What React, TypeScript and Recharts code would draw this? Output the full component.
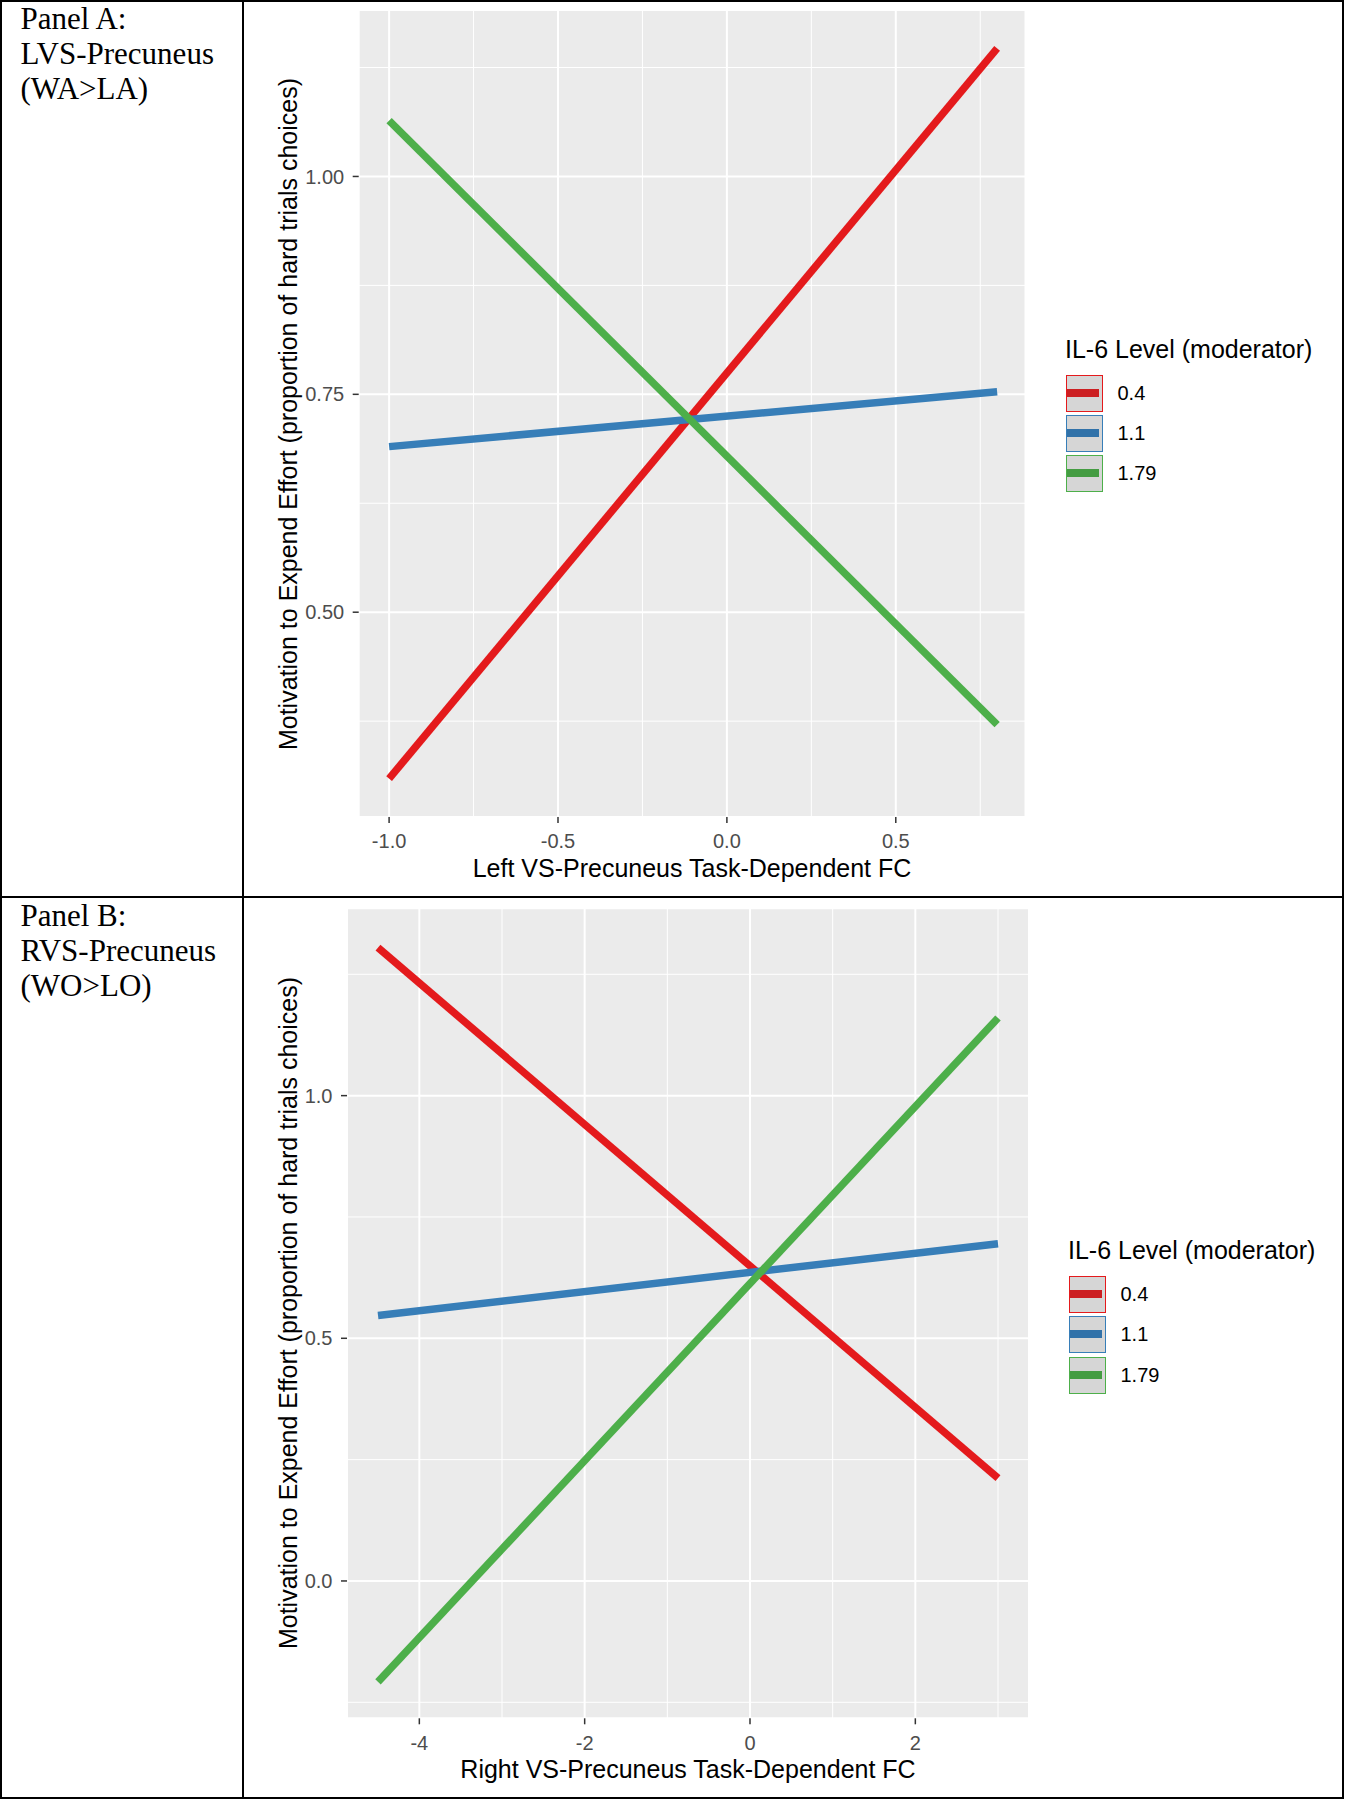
import {
  CartesianGrid,
  Line,
  LineChart,
  ReferenceLine,
  XAxis,
  YAxis,
} from "recharts";

const levels = ["0.4", "1.1", "1.79"];
const levelColors = ["#E41A1C", "#377EB8", "#4DAF4A"];
const keyLineColors = ["#CC1F22", "#3172A9", "#449C42"];

// Panel A: Left VS-Precuneus (WA>LA)
const fcA = [-1.0, 0.8];
const lowA = [0.309, 1.147];
const midA = [0.69, 0.753];
const highA = [1.064, 0.371];
const xTicksA = [-1.0, -0.5, 0.0, 0.5];
const yTicksA = [0.5, 0.75, 1.0];
const xMinorA = [-0.75, -0.25, 0.25, 0.75];
const yMinorA = [0.375, 0.625, 0.875, 1.125];

// Panel B: Right VS-Precuneus (WO>LO)
const fcB = [-4.5, 3.0];
const lowB = [1.305, 0.212];
const midB = [0.547, 0.695];
const highB = [-0.208, 1.16];
const xTicksB = [-4, -2, 0, 2];
const yTicksB = [0.0, 0.5, 1.0];
const xMinorB = [-3, -1, 1, 3];
const yMinorB = [-0.25, 0.25, 0.75, 1.25];

const yTitle =
  "Motivation to Expend Effort (proportion of hard trials choices)";
const legendTitle = "IL-6 Level (moderator)";

const sans = "'Liberation Sans', Arial, sans-serif";
const serif = "'Liberation Serif', 'Times New Roman', serif";

const tickStyle = { fontSize: 20, fill: "#4D4D4D", fontFamily: sans };

type PanelProps = {
  left: number;
  top: number;
  margin: { top: number; right: number; bottom: number; left: number };
  yAxisWidth: number;
  fc: number[];
  low: number[];
  mid: number[];
  high: number[];
  xDomain: [number, number];
  yDomain: [number, number];
  xTicks: number[];
  yTicks: number[];
  xMinor: number[];
  yMinor: number[];
  xDigits: number;
  yDigits: number;
};

function InteractionChart(p: PanelProps) {
  const data = p.fc.map((x, i) => ({
    x,
    low: p.low[i],
    mid: p.mid[i],
    high: p.high[i],
  }));
  const keys = ["low", "mid", "high"];

  return (
    <div style={{ position: "absolute", left: p.left, top: p.top }}>
      <LineChart width={790} height={880} data={data} margin={p.margin}>
        <CartesianGrid fill="#EBEBEB" stroke="#FFFFFF" strokeWidth={2} />
        {p.xMinor.map((v) => (
          <ReferenceLine key={"vx" + v} x={v} stroke="#FFFFFF" strokeWidth={1} />
        ))}
        {p.yMinor.map((v) => (
          <ReferenceLine key={"hy" + v} y={v} stroke="#FFFFFF" strokeWidth={1} />
        ))}
        <XAxis
          type="number"
          dataKey="x"
          domain={p.xDomain}
          ticks={p.xTicks}
          allowDataOverflow
          interval={0}
          height={50}
          axisLine={false}
          tickLine={{ stroke: "#333333", strokeWidth: 1.5 }}
          tickSize={6}
          tickMargin={11}
          tick={tickStyle}
          tickFormatter={(v: number) => v.toFixed(p.xDigits)}
        />
        <YAxis
          type="number"
          domain={p.yDomain}
          ticks={p.yTicks}
          allowDataOverflow
          interval={0}
          width={p.yAxisWidth}
          axisLine={false}
          tickLine={{ stroke: "#333333", strokeWidth: 1.5 }}
          tickSize={6}
          tickMargin={8.5}
          tick={tickStyle}
          tickFormatter={(v: number) => v.toFixed(p.yDigits)}
        />
        {keys.map((k, i) => (
          <Line
            key={k}
            type="linear"
            dataKey={k}
            stroke={levelColors[i]}
            strokeWidth={7.5}
            dot={false}
            activeDot={false}
            isAnimationActive={false}
          />
        ))}
      </LineChart>
    </div>
  );
}

function YTitle({ cx, cy }: { cx: number; cy: number }) {
  return (
    <div style={{ position: "absolute", left: cx, top: cy, width: 0, height: 0 }}>
      <div
        style={{
          position: "absolute",
          left: 0,
          top: 0,
          transform: "translate(-50%, -50%) rotate(-90deg)",
          whiteSpace: "nowrap",
          fontFamily: sans,
          fontSize: 25,
          lineHeight: "25px",
          color: "#000",
        }}
      >
        {yTitle}
      </div>
    </div>
  );
}

function XTitle({ cx, baseline, text }: { cx: number; baseline: number; text: string }) {
  return (
    <div
      style={{
        position: "absolute",
        left: cx - 400,
        width: 800,
        top: baseline - 21.2,
        textAlign: "center",
        fontFamily: sans,
        fontSize: 25,
        lineHeight: "25px",
        color: "#000",
        whiteSpace: "nowrap",
      }}
    >
      {text}
    </div>
  );
}

function LegendBlock({ left, baseline }: { left: number; baseline: number }) {
  return (
    <div style={{ position: "absolute", left: 0, top: 0 }}>
      <div
        style={{
          position: "absolute",
          left,
          top: baseline - 21.2,
          fontFamily: sans,
          fontSize: 25,
          lineHeight: "25px",
          whiteSpace: "nowrap",
          color: "#000",
        }}
      >
        {legendTitle}
      </div>
      {levels.map((lv, i) => {
        const top = baseline + 17 + i * 40.3;
        return (
          <div key={lv}>
            <div
              style={{
                position: "absolute",
                left: left + 1,
                top,
                width: 37,
                height: 37,
                boxSizing: "border-box",
                border: `1.5px solid ${levelColors[i]}`,
                background: "#D6D6D6",
              }}
            >
              <div
                style={{
                  position: "absolute",
                  left: 0,
                  right: 3,
                  top: 13,
                  height: 8,
                  background: keyLineColors[i],
                }}
              />
            </div>
            <div
              style={{
                position: "absolute",
                left: left + 52.5,
                top,
                height: 37,
                lineHeight: "37px",
                fontFamily: sans,
                fontSize: 20,
                color: "#000",
                whiteSpace: "nowrap",
              }}
            >
              {lv}
            </div>
          </div>
        );
      })}
    </div>
  );
}

function PanelLabel({ top, lines }: { top: number; lines: string[] }) {
  return (
    <div
      style={{
        position: "absolute",
        left: 20.5,
        top,
        fontFamily: serif,
        fontSize: 31,
        lineHeight: "35px",
        color: "#000",
        whiteSpace: "nowrap",
      }}
    >
      {lines.map((l) => (
        <div key={l}>{l}</div>
      ))}
    </div>
  );
}

export default function App() {
  return (
    <div
      style={{
        position: "absolute",
        left: 0,
        top: 0,
        width: 1347,
        height: 1800,
        background: "#FFFFFF",
        overflow: "hidden",
      }}
    >
      {/* table frame */}
      <div
        style={{
          position: "absolute",
          left: 0,
          top: 0,
          width: 1344,
          height: 1799,
          boxSizing: "border-box",
          border: "2px solid #000",
        }}
      />
      <div style={{ position: "absolute", left: 242, top: 0, width: 2, height: 1799, background: "#000" }} />
      <div style={{ position: "absolute", left: 0, top: 896, width: 1344, height: 2, background: "#000" }} />

      <PanelLabel top={1.3} lines={["Panel A:", "LVS-Precuneus", "(WA>LA)"]} />
      <PanelLabel top={897.7} lines={["Panel B:", "RVS-Precuneus", "(WO>LO)"]} />

      <InteractionChart
        left={250}
        top={0}
        margin={{ top: 10, right: 14.5, bottom: 13, left: 0 }}
        yAxisWidth={108.7}
        fc={fcA}
        low={lowA}
        mid={midA}
        high={highA}
        xDomain={[-1.09, 0.884]}
        yDomain={[0.265, 1.191]}
        xTicks={xTicksA}
        yTicks={yTicksA}
        xMinor={xMinorA}
        yMinor={yMinorA}
        xDigits={1}
        yDigits={2}
      />
      <YTitle cx={288} cy={413.5} />
      <XTitle cx={692} baseline={877} text="Left VS-Precuneus Task-Dependent FC" />
      <LegendBlock left={1065} baseline={357.7} />

      <InteractionChart
        left={250}
        top={900}
        margin={{ top: 8.3, right: 11, bottom: 11.7, left: 0 }}
        yAxisWidth={97}
        fc={fcB}
        low={lowB}
        mid={midB}
        high={highB}
        xDomain={[-4.875, 3.375]}
        yDomain={[-0.283, 1.386]}
        xTicks={xTicksB}
        yTicks={yTicksB}
        xMinor={xMinorB}
        yMinor={yMinorB}
        xDigits={0}
        yDigits={1}
      />
      <YTitle cx={288} cy={1313.3} />
      <XTitle cx={688} baseline={1778} text="Right VS-Precuneus Task-Dependent FC" />
      <LegendBlock left={1068} baseline={1259} />
    </div>
  );
}
